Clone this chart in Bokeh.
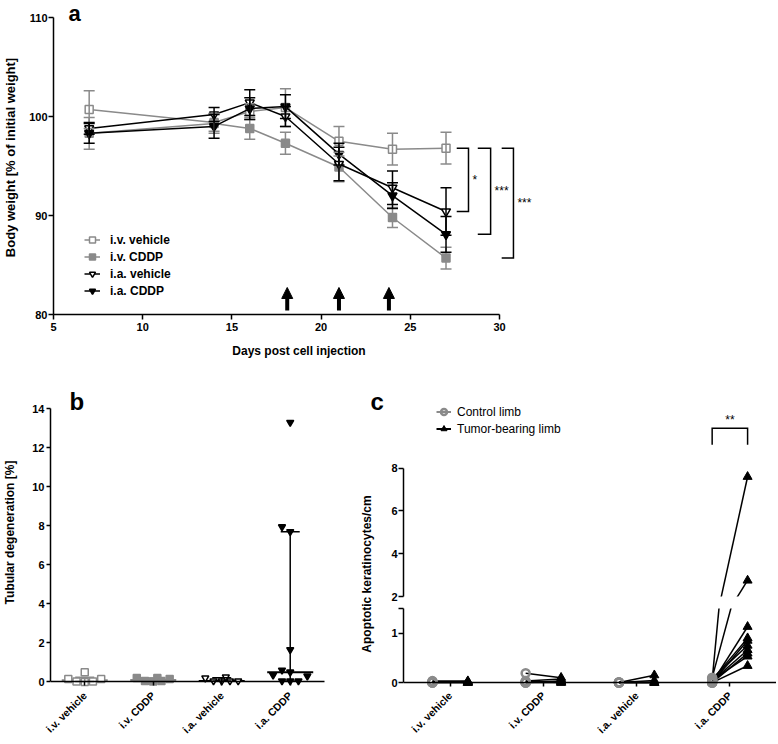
import numpy as np
from bokeh.plotting import figure
from bokeh.layouts import column, row
from bokeh.models import (ColumnDataSource, Whisker, TeeHead, Arrow, NormalHead,
                          Legend, LegendItem, FixedTicker, Range1d, LinearAxis)
from bokeh.core.properties import value
from bokeh.embed import file_html
from bokeh.resources import INLINE

FONT = "Liberation Sans"
GRAY = "#8a8a8a"
BLACK = "#000000"

# ---------------- panel a data ----------------
days = [7, 14, 16, 18, 21, 24, 27]
iv_vehicle_mean = [100.7, 99.4, 100.5, 100.9, 97.5, 96.7, 96.8]
iv_vehicle_sem = [1.9, 0.9, 0.8, 1.9, 1.5, 1.6, 1.6]
iv_cddp_mean = [98.3, 99.3, 98.8, 97.3, 94.9, 89.8, 85.7]
iv_cddp_sem = [1.6, 1.0, 1.1, 1.1, 1.5, 1.0, 1.1]
ia_vehicle_mean = [98.8, 100.2, 101.4, 100.0, 95.2, 92.8, 90.4]
ia_vehicle_sem = [0.6, 0.7, 1.3, 1.0, 1.7, 1.7, 2.4]
ia_cddp_mean = [98.3, 99.0, 100.8, 101.0, 96.2, 92.0, 88.1]
ia_cddp_sem = [1.0, 1.2, 1.1, 1.2, 1.1, 1.3, 1.8]
treatment_days = [18.1, 21.0, 23.8]
a_xticks = [5, 10, 15, 20, 25, 30]
a_yticks = [80, 90, 100, 110]
a_sig_labels = ["*", "***", "***"]

# ---------------- panel b data ----------------
groups = ["i.v. vehicle", "i.v. CDDP", "i.a. vehicle", "i.a. CDDP"]
b_iv_vehicle = [0.15, 0.02, 0.5, 0.0, 0.02, 0.15]
b_iv_cddp = [0.2, 0.05, 0.02, 0.2, 0.05, 0.15]
b_ia_vehicle = [0.2, 0.05, 0.05, 0.25, 0.05, 0.05]
b_ia_cddp = [13.3, 7.95, 7.7, 1.65, 0.6, 0.5, 0.35, 0.3, 0.05, 0.05, 0.05]
b_yticks = [0, 2, 4, 6, 8, 10, 12, 14]

# ---------------- panel c data ----------------
c_iv_vehicle_control = [0.03, 0.0, 0.0, 0.02, 0.0]
c_iv_vehicle_tumor = [0.03, 0.0, 0.0, 0.0, 0.02]
c_iv_cddp_control = [0.19, 0.03, 0.0, 0.0, 0.02, 0.0]
c_iv_cddp_tumor = [0.1, 0.07, 0.03, 0.0, 0.0, 0.02]
c_ia_vehicle_control = [0.0, 0.0, 0.0, 0.0, 0.0]
c_ia_vehicle_tumor = [0.15, 0.04, 0.0, 0.0, 0.0]
c_ia_cddp_control = [0.05, 0.1, 0.0, 0.05, 0.0, 0.08, 0.03, 0.0, 0.05, 0.0]
c_ia_cddp_tumor = [7.6, 2.75, 1.13, 0.9, 0.85, 0.75, 0.66, 0.59, 0.53, 0.34]
c_upper_ticks = [2, 4, 6, 8]
c_lower_ticks = [0, 1, 1.5]
group_ticks = [1, 2, 3, 4]


def style_axis(ax, label_size="11px", tick_out=5, standoff=2, title_size="12px"):
    ax.axis_line_width = 1.5
    ax.axis_line_color = BLACK
    ax.major_tick_line_width = 1.5
    ax.major_tick_line_color = BLACK
    ax.major_tick_out = tick_out
    ax.major_tick_in = 0
    ax.minor_tick_line_color = None
    ax.major_label_standoff = standoff
    ax.major_label_text_font = FONT
    ax.major_label_text_font_style = "bold"
    ax.major_label_text_font_size = label_size
    ax.major_label_text_color = BLACK
    ax.axis_label_text_font = FONT
    ax.axis_label_text_font_style = "bold"
    ax.axis_label_text_font_size = title_size
    ax.axis_label_text_color = BLACK


def base_fig(**kw):
    p = figure(output_backend="svg", toolbar_location=None, **kw)
    p.grid.visible = False
    p.outline_line_color = None
    p.background_fill_color = "white"
    p.border_fill_color = "white"
    return p


def category_axes(p, standoff):
    """Axis line + ticks fixed at y=0; rotated labels drawn by the frame-edge axis."""
    lab = p.xaxis[0]
    style_axis(lab, label_size="10.5px", tick_out=0, standoff=standoff)
    lab.axis_line_color = None
    lab.major_tick_line_color = None
    lab.ticker = FixedTicker(ticks=group_ticks)
    lab.major_label_overrides = {i + 1: g for i, g in enumerate(groups)}
    lab.major_label_orientation = np.pi / 4
    fx = LinearAxis(ticker=FixedTicker(ticks=group_ticks), fixed_location=0, bounds=(0.5, 4.5))
    style_axis(fx, tick_out=4, standoff=2)
    fx.major_label_text_color = None
    p.add_layout(fx, "below")


# =============== panel a ===============
pa = base_fig(width=544, height=360, x_range=Range1d(5, 32.52), y_range=Range1d(80, 111.72),
              min_border_left=53, min_border_right=0, min_border_top=0, min_border_bottom=46)
style_axis(pa.xaxis[0], tick_out=5, standoff=3, title_size="12px")
style_axis(pa.yaxis[0], tick_out=5, standoff=1, title_size="13px")
pa.xaxis.ticker = FixedTicker(ticks=a_xticks)
pa.yaxis.ticker = FixedTicker(ticks=a_yticks)
pa.xaxis.bounds = (5, 30)
pa.yaxis.bounds = (80, 110)
pa.xaxis.axis_label = "Days post cell injection"
pa.yaxis.axis_label = "Body weight [% of initial weight]"
pa.xaxis.axis_label_standoff = 10
pa.yaxis.axis_label_standoff = 8

series = [
    ("i.v. vehicle", iv_vehicle_mean, iv_vehicle_sem, GRAY, "square", "white", 8),
    ("i.v. CDDP", iv_cddp_mean, iv_cddp_sem, GRAY, "square", GRAY, 8),
    ("i.a. vehicle", ia_vehicle_mean, ia_vehicle_sem, BLACK, "inverted_triangle", "white", 9),
    ("i.a. CDDP", ia_cddp_mean, ia_cddp_sem, BLACK, "inverted_triangle", BLACK, 9),
]
a_items = []
for name, mean, sem, col, mk, fill, sz in series:
    m = np.array(mean)
    s = np.array(sem)
    src = ColumnDataSource(dict(x=days, y=mean, upper=m + s, lower=m - s))
    w = Whisker(source=src, base="x", upper="upper", lower="lower",
                line_color=col, line_width=1.5, level="glyph",
                upper_head=TeeHead(size=11, line_color=col, line_width=1.5),
                lower_head=TeeHead(size=11, line_color=col, line_width=1.5))
    pa.add_layout(w)
    ln = pa.line("x", "y", source=src, line_color=col, line_width=1.5)
    sc = pa.scatter("x", "y", source=src, marker=mk, size=sz, fill_color=fill,
                    line_color=col, line_width=1.5)
    a_items.append(LegendItem(label=name, renderers=[ln, sc]))

leg_a = Legend(items=a_items, location=(31, 16), orientation="vertical",
               background_fill_alpha=0, border_line_color=None,
               label_text_font=FONT, label_text_font_style="bold",
               label_text_font_size="12px", label_text_color=BLACK,
               glyph_width=16, glyph_height=15, label_height=15, spacing=2,
               padding=0, margin=0, label_standoff=10)
pa.add_layout(leg_a)

for d in treatment_days:
    pa.add_layout(Arrow(x_start=d, y_start=80.4, x_end=d, y_end=82.73,
                        line_width=4, line_color=BLACK,
                        end=NormalHead(size=11, fill_color=BLACK, line_color=BLACK, line_width=1)))

# significance brackets: i.v. vehicle vs others at final day
ref_val = iv_vehicle_mean[-1]
comp_vals = [ia_vehicle_mean[-1], ia_cddp_mean[-1], iv_cddp_mean[-1]]
bracket_x = [(27.6, 28.26), (28.78, 29.5), (30.12, 30.78)]
bxs, bys = [], []
for (x0, x1), v in zip(bracket_x, comp_vals):
    bxs.append([x0, x1, x1, x0])
    bys.append([ref_val, ref_val, v, v])
pa.multi_line(bxs, bys, line_color=BLACK, line_width=1.5, line_join="miter")
pa.text(x=[bx[1] + 0.22 for bx in bracket_x], y=[(ref_val + v) / 2 for v in comp_vals],
        text=a_sig_labels, text_font=value(FONT), text_font_size="12px",
        text_align="left", text_baseline="middle", text_color=BLACK)
pa.text(x=[5.84], y=[110.41], text=["a"], text_font=value(FONT), text_font_size="22px",
        text_font_style="bold", text_align="left", text_baseline="alphabetic", text_color=BLACK)

# =============== panel b ===============
pb = base_fig(width=388, height=382, x_range=Range1d(0.5, 5.435), y_range=Range1d(-0.339, 15.655),
              min_border_left=49, min_border_right=0, min_border_top=16, min_border_bottom=52)
category_axes(pb, standoff=5)
style_axis(pb.yaxis[0], tick_out=4, standoff=2, title_size="12px")
pb.yaxis.bounds = (0, 14)
pb.yaxis.ticker = FixedTicker(ticks=b_yticks)
pb.yaxis.axis_label = "Tubular degeneration [%]"
pb.yaxis.axis_label_standoff = 12

b_sets = [b_iv_vehicle, b_iv_cddp, b_ia_vehicle, b_ia_cddp]
b_offsets = [
    [-0.24, -0.12, 0.0, 0.0, 0.12, 0.24],
    [-0.24, -0.12, 0.0, 0.06, 0.12, 0.24],
    [-0.24, -0.12, 0.0, 0.06, 0.12, 0.24],
    [0.0, -0.12, 0.0, 0.0, -0.12, 0.0, -0.25, 0.25, -0.12, 0.0, 0.12],
]
b_style = [(GRAY, "square", "white", 7), (GRAY, "square", GRAY, 7),
           (BLACK, "inverted_triangle", "white", 7), (BLACK, "inverted_triangle", BLACK, 7)]
for i, (vals, offs, (col, mk, fill, sz)) in enumerate(zip(b_sets, b_offsets, b_style)):
    xc = i + 1
    med = float(np.median(vals))
    q1 = float(np.percentile(vals, 25, method="weibull"))
    q3 = float(np.percentile(vals, 75, method="weibull"))
    wsrc = ColumnDataSource(dict(x=[xc], lo=[q1], hi=[q3]))
    pb.add_layout(Whisker(source=wsrc, base="x", upper="hi", lower="lo", line_color=col,
                          line_width=1.5, level="glyph",
                          upper_head=TeeHead(size=19, line_color=col, line_width=1.5),
                          lower_head=TeeHead(size=19, line_color=col, line_width=1.5)))
    pb.scatter(x=[xc], y=[med], marker="dash", size=46, line_color=col, line_width=2)
    pb.scatter(x=[xc + o for o in offs], y=vals, marker=mk, size=sz, fill_color=fill,
               line_color=col, line_width=1.5)

pb.text(x=[0.777, 5.173], y=[14.39, 14.39], text=["b", "c"], text_font=value(FONT),
        text_font_size="24px", text_font_style="bold", text_align="left",
        text_baseline="alphabetic", text_color=BLACK)
pb.text(x=[5.115], y=[5.53], text=["Apoptotic keratinocytes/cm"], angle=np.pi / 2,
        text_font=value(FONT), text_font_size="12px", text_font_style="bold",
        text_align="center", text_baseline="middle", text_color=BLACK)

# =============== panel c (broken y axis: two stacked frames) ===============
c_pairs = [(c_iv_vehicle_control, c_iv_vehicle_tumor), (c_iv_cddp_control, c_iv_cddp_tumor),
           (c_ia_vehicle_control, c_ia_vehicle_tumor), (c_ia_cddp_control, c_ia_cddp_tumor)]
dx = 0.19
line_xs, line_ys, cx, cy, tx, ty = [], [], [], [], [], []
for i, (ctrl, tum) in enumerate(c_pairs):
    xc = i + 1
    for cv, tv in zip(ctrl, tum):
        line_xs.append([xc - dx, xc + dx])
        line_ys.append([cv, tv])
        cx.append(xc - dx); cy.append(cv)
        tx.append(xc + dx); ty.append(tv)

c_xr = Range1d(0.5, 4.5)
pc_top = base_fig(width=388, height=242, x_range=c_xr, y_range=Range1d(2, 12.29),
                  x_axis_location=None, min_border_left=14, min_border_right=0,
                  min_border_top=16, min_border_bottom=6)
pc_bot = base_fig(width=388, height=140, x_range=c_xr, y_range=Range1d(-0.12, 1.5),
                  min_border_left=14, min_border_right=0, min_border_top=6, min_border_bottom=51)
style_axis(pc_top.yaxis[0], tick_out=5, standoff=1)
style_axis(pc_bot.yaxis[0], tick_out=5, standoff=1)
category_axes(pc_bot, standoff=5)
pc_top.yaxis.bounds = (2, 8)
pc_top.yaxis.ticker = FixedTicker(ticks=c_upper_ticks)
pc_bot.yaxis.bounds = (0, 1.5)
pc_bot.yaxis.ticker = FixedTicker(ticks=c_lower_ticks)
pc_bot.yaxis.major_label_overrides = {1.5: ""}

c_render = {}
for p in (pc_top, pc_bot):
    p.multi_line(line_xs, line_ys, line_color=BLACK, line_width=1.5)
    rc = p.scatter(cx, cy, marker="circle", size=8, fill_color=None, line_color=GRAY,
                   line_width=2.5)
    rt = p.scatter(tx, ty, marker="triangle", size=9, fill_color=BLACK, line_color=BLACK)
    c_render[p] = (rc, rt)

# legend swatch lines (single NaN point: nothing drawn in the plot)
lg_c = pc_top.line(x=[np.nan], y=[np.nan], line_color=GRAY, line_width=2)
lg_t = pc_top.line(x=[np.nan], y=[np.nan], line_color=BLACK, line_width=2)
rc, rt = c_render[pc_top]
leg_c = Legend(items=[LegendItem(label="Control limb", renderers=[lg_c, rc]),
                      LegendItem(label="Tumor-bearing limb", renderers=[lg_t, rt])],
               location=(33, 160), orientation="vertical",
               background_fill_alpha=0, border_line_color=None,
               label_text_font=FONT, label_text_font_size="12px", label_text_color=BLACK,
               glyph_width=15, glyph_height=15, label_height=15, spacing=2,
               padding=0, margin=0, label_standoff=6)
pc_top.add_layout(leg_c)

# ** bracket between control and tumor limb of i.a. CDDP
sig_group = 4
pc_top.multi_line([[sig_group - dx, sig_group - dx, sig_group + dx, sig_group + dx]],
                  [[9.10, 9.87, 9.87, 9.10]], line_color=BLACK, line_width=1.5, line_join="miter")
pc_top.text(x=[sig_group], y=[10.25], text=["**"], text_font=value(FONT), text_font_size="12px",
            text_align="center", text_baseline="middle", text_color=BLACK)

layout = column(pa, row(pb, column(pc_top, pc_bot)))
open("out.html", "w").write(file_html(layout, INLINE))
